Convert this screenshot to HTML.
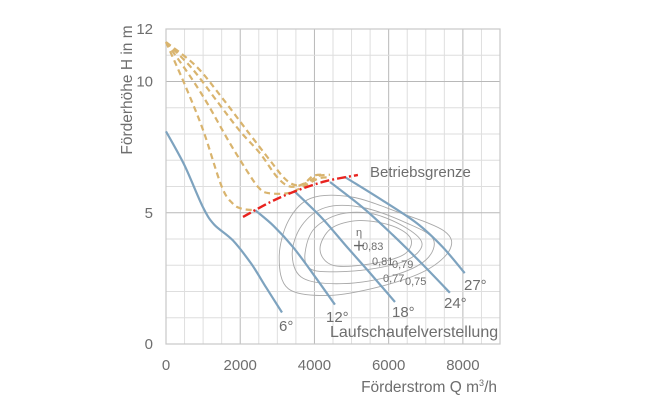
<!DOCTYPE html>
<html><head><meta charset="utf-8"><style>
html,body{margin:0;padding:0;background:#fff;width:650px;height:416px;overflow:hidden}
svg{display:block}
text{font-family:"Liberation Sans",sans-serif;fill:#6e6e6e}
</style></head><body>
<svg id="c" width="650" height="416"></svg>
<script>
const xTicks=[0,2000,4000,6000,8000];
const yTicks=[0,5,10,12];
const curve6=[[0,8.1],[500,6.8],[1000,5.2],[1300,4.55],[1800,3.95],[2300,3.05],[2700,2.15],[3125,1.2]];
const curve12=[[2400,5.1],[2900,4.5],[3420,3.7],[4000,2.6],[4550,1.5]];
const curve18=[[3475,5.8],[4200,4.8],[4875,3.7],[5500,2.7],[6170,1.6]];
const curve24=[[4420,6.17],[5300,5.2],[6115,4.15],[6900,3.05],[7650,1.95]];
const curve27=[[4820,6.36],[5800,5.5],[6760,4.6],[7450,3.7],[8050,2.7]];
const limitLine=[[2075,4.84],[2800,5.4],[3500,5.83],[4300,6.2],[5170,6.44]];
const orange1=[[0,11.5],[500,9.9],[1000,8.15],[1500,6.0],[1800,5.35],[2050,5.15],[2400,5.1]];
const orange2=[[0,11.5],[600,10.3],[1100,9.2],[1700,7.7],[2180,6.6],[2500,5.95],[2750,5.75],[3300,5.75],[3700,6.0],[4100,6.3],[4400,6.35]];
const orange3=[[0,11.5],[700,10.5],[1400,9.2],[2000,8.1],[2530,7.27],[3000,6.35],[3340,6.0],[3700,6.1],[3960,6.4],[4200,6.45]];
const orange4=[[0,11.5],[800,10.6],[1500,9.4],[2200,8.1],[2800,7.0],[3200,6.3],[3500,6.05],[3800,6.15],[4100,6.4],[4420,6.45]];
const eff75=[[3050,3.3],[3300,4.7],[3900,5.55],[5000,5.6],[6300,5.0],[7500,4.3],[7650,3.6],[7000,2.8],[5800,2.2],[4400,1.85],[3300,2.1]];
const eff77=[[3400,3.4],[3650,4.5],[4300,5.2],[5300,5.2],[6500,4.6],[7200,4.0],[7000,3.2],[6100,2.6],[4800,2.3],[3700,2.5]];
const eff79=[[3750,3.5],[4000,4.4],[4700,4.95],[5600,4.95],[6500,4.4],[6900,3.8],[6500,3.2],[5500,2.85],[4400,2.75],[3850,2.9]];
const eff81=[[4150,3.6],[4450,4.4],[5200,4.7],[6100,4.5],[6600,4.0],[6400,3.4],[5500,3.05],[4500,3.0]];
const bestPoint=[5200,3.75];

const X0=166,X1=500,Y0=344,Y1=29,XMAX=9000,YMAX=12;
const sx=v=>X0+v/XMAX*(X1-X0), sy=v=>Y0-v/YMAX*(Y0-Y1);
const svg=document.getElementById('c'),NS='http://www.w3.org/2000/svg';
function mk(t,a,p){const e=document.createElementNS(NS,t);for(const k in a)e.setAttribute(k,a[k]);(p||svg).appendChild(e);return e;}
function spline(pts,closed){
  const P=pts.map(p=>[sx(p[0]),sy(p[1])]);const n=P.length;let d='M'+P[0][0].toFixed(1)+','+P[0][1].toFixed(1);
  const g=i=>closed?P[(i+n)%n]:P[Math.max(0,Math.min(n-1,i))];
  const m=closed?n:n-1;
  for(let i=0;i<m;i++){const p0=g(i-1),p1=g(i),p2=g(i+1),p3=g(i+2);
    const c1=[p1[0]+(p2[0]-p0[0])/6,p1[1]+(p2[1]-p0[1])/6],c2=[p2[0]-(p3[0]-p1[0])/6,p2[1]-(p3[1]-p1[1])/6];
    d+=`C${c1[0].toFixed(1)},${c1[1].toFixed(1)} ${c2[0].toFixed(1)},${c2[1].toFixed(1)} ${p2[0].toFixed(1)},${p2[1].toFixed(1)}`;}
  return d+(closed?'Z':'');
}
const grid=mk('g',{});


for(let v=0;v<=XMAX;v+=500){const major=v%2000===0;mk('line',{x1:sx(v),x2:sx(v),y1:Y1,y2:Y0,stroke:major?'#b8b8b8':'#dedede','stroke-width':1},grid);}
for(let v=0;v<=YMAX;v+=1){const major=v%5===0;mk('line',{x1:X0,x2:X1,y1:sy(v),y2:sy(v),stroke:major?'#b8b8b8':'#dedede','stroke-width':1},grid);}
mk('rect',{x:X0,y:Y1,width:X1-X0,height:Y0-Y1,fill:'none',stroke:'#c8c8c8','stroke-width':1.2},grid);
xTicks.forEach(v=>{const t=mk('text',{x:sx(v),y:370,'font-size':15,'text-anchor':'middle'});t.textContent=v;

});
yTicks.forEach(v=>{const t=mk('text',{x:153,y:sy(v)+5,'font-size':15,'text-anchor':'end'});t.textContent=v;

});
[eff75,eff77,eff79,eff81].forEach(c=>{const p=mk('path',{d:spline(c,true),fill:'none',stroke:'#a8a8a8','stroke-width':0.9});

});
[orange1,orange2,orange3,orange4].forEach(c=>{const p=mk('path',{d:spline(c,false),fill:'none',stroke:'#d9b46e','stroke-width':2.2,'stroke-dasharray':'6 4'});

});
[curve6,curve12,curve18,curve24,curve27].forEach(c=>{const p=mk('path',{d:spline(c,false),fill:'none',stroke:'#7ea3bf','stroke-width':2.2});

});
const rl=mk('path',{d:spline(limitLine,false),fill:'none',stroke:'#e8231f','stroke-width':2.4,'stroke-dasharray':'9 3 2 3'});


const bx=sx(bestPoint[0]),by=sy(bestPoint[1]);
mk('path',{d:`M${bx-5},${by}H${bx+5}M${bx},${by-5}V${by+5}`,stroke:'#666','stroke-width':1.3});
function lab(x,y,s,t,name){const e=mk('text',{x:x,y:y,'font-size':s});e.textContent=t;return e;}
lab(370,177,15,'Betriebsgrenze','limit-label');
lab(279,331,15,'6°','label-6');
lab(326,322,15,'12°','label-12');
lab(392,317,15,'18°','label-18');
lab(444,308,15,'24°','label-24');
lab(464,290,15,'27°','label-27');
lab(330,337,16,'Laufschaufelverstellung','blade-adjust-label');
lab(356,236,11,'η','eta-label');
lab(362,250,11,'0,83','eff-083');
lab(372,265,11,'0,81','eff-081');
lab(392,268,11,'0,79','eff-079');
lab(383,282,11,'0,77','eff-077');
lab(405,285,11,'0,75','eff-075');
const xt=lab(497,392,15.5,'','x-axis-title');xt.setAttribute('text-anchor','end');
xt.innerHTML='Förderstrom Q m<tspan font-size="9" dy="-6">3</tspan><tspan dy="6">/h</tspan>';
const yt=lab(0,0,15.5,'Förderhöhe H in m','y-axis-title');yt.setAttribute('text-anchor','middle');yt.setAttribute('transform','translate(132,90) rotate(-90)');
</script>
</body></html>
